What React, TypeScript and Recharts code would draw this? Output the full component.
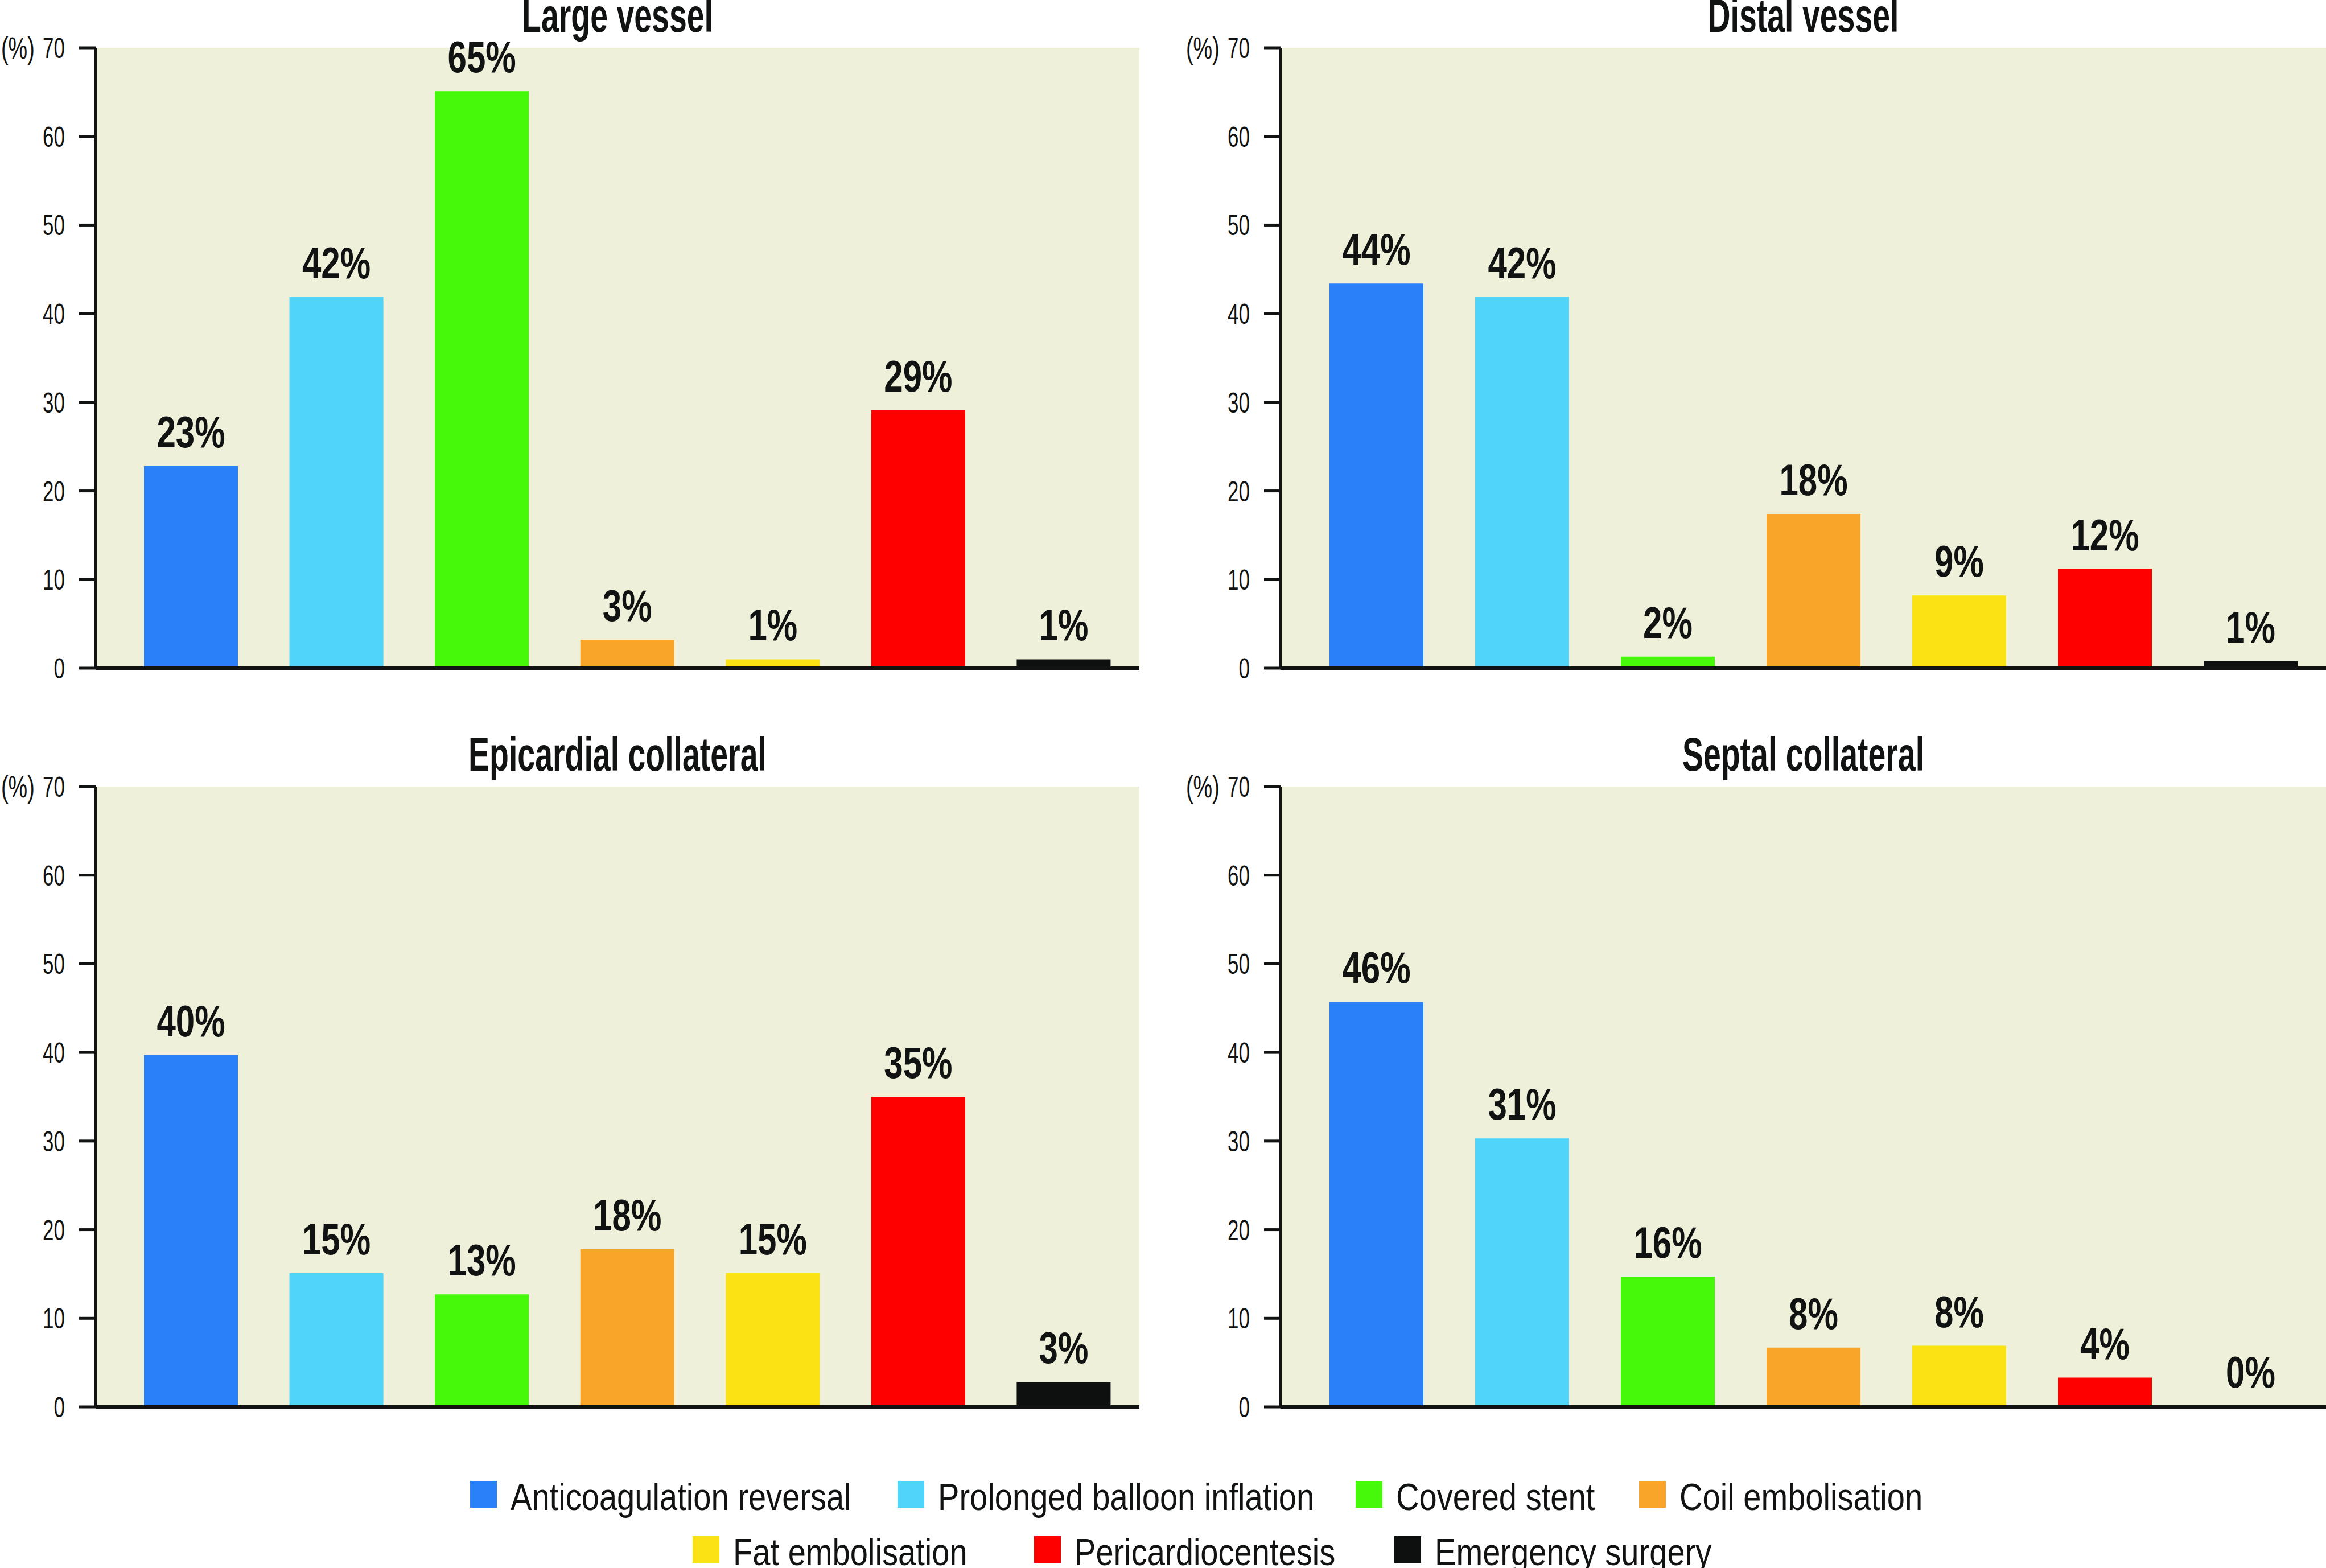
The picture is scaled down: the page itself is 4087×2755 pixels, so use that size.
import React from 'react';
import { BarChart, Bar, XAxis, YAxis, CartesianGrid, Cell, LabelList } from 'recharts';

const categories = [
  'Anticoagulation reversal',
  'Prolonged balloon inflation',
  'Covered stent',
  'Coil embolisation',
  'Fat embolisation',
  'Pericardiocentesis',
  'Emergency surgery',
];

// bar heights, labels as printed
const largeVessel = [22.8, 41.9, 65.1, 3.2, 1.0, 29.1, 1.0];
const largeVesselLabels = ['23%', '42%', '65%', '3%', '1%', '29%', '1%'];
const distalVessel = [43.4, 41.9, 1.3, 17.4, 8.2, 11.2, 0.8];
const distalVesselLabels = ['44%', '42%', '2%', '18%', '9%', '12%', '1%'];
const epicardial = [39.7, 15.1, 12.7, 17.8, 15.1, 35.0, 2.8];
const epicardialLabels = ['40%', '15%', '13%', '18%', '15%', '35%', '3%'];
const septal = [45.7, 30.3, 14.7, 6.7, 6.9, 3.3, 0];
const septalLabels = ['46%', '31%', '16%', '8%', '8%', '4%', '0%'];

const yTicks = [0, 10, 20, 30, 40, 50, 60, 70];

const COLORS = ['#2a80f8', '#50d4fa', '#46f80a', '#f8a52a', '#fbe214', '#fe0000', '#0e100f'];
const BG = '#eef0d9';
const INK = '#111312';
const FONT = '"Liberation Sans", Arial, sans-serif';

const CHART_H = 1200;

const panels = [
  { title: 'Large vessel', values: largeVessel, labels: largeVesselLabels, left: 0, top: 0, width: 2010 },
  { title: 'Distal vessel', values: distalVessel, labels: distalVesselLabels, left: 2080, top: 0, width: 2007 },
  { title: 'Epicardial collateral', values: epicardial, labels: epicardialLabels, left: 0, top: 1298, width: 2010 },
  { title: 'Septal collateral', values: septal, labels: septalLabels, left: 2080, top: 1298, width: 2007 },
];

const legendPos = [
  [826, 2602], [1577, 2602], [2382, 2602], [2880, 2602],
  [1217, 2699], [1817, 2699], [2450, 2699],
];

const YTick = (props: any) => {
  const { x, y, payload } = props;
  return (
    <g transform={`translate(${x},${y}) scale(0.7,1)`}>
      <text x={0} y={0} dy="0.36em" textAnchor="end" fontSize={50} fontFamily={FONT} fill={INK}>
        {payload.value}
      </text>
      {payload.value === 70 && (
        <text x={-76} y={0} dy="0.36em" textAnchor="end" fontSize={54} fontFamily={FONT} fill={INK}>
          (%)
        </text>
      )}
    </g>
  );
};

const ValueLabel = (props: any) => {
  const { x, y, width, value } = props;
  const cx = Number(x) + Number(width) / 2;
  const by = Number(y) - 33;
  return (
    <g transform={`translate(${cx},${by}) scale(0.78,1)`}>
      <text x={0} y={0} textAnchor="middle" fontSize={77} fontWeight="bold" fontFamily={FONT} fill={INK}>
        {value}
      </text>
    </g>
  );
};

const Panel = ({ p }: any) => {
  const data = categories.map((name, i) => ({ name, value: p.values[i], label: p.labels[i] }));
  const marginLeft = p.left === 0 ? 8 : 10;
  return (
    <div style={{ position: 'absolute', left: p.left, top: p.top }}>
      <BarChart
        width={p.width}
        height={CHART_H}
        data={data}
        margin={{ top: 84, right: p.left === 0 ? 8 : 0, left: marginLeft, bottom: 16 }}
      >
        <CartesianGrid fill={BG} horizontal={false} vertical={false} stroke="none" />
        <XAxis
          dataKey="name"
          tick={false}
          tickLine={false}
          height={10}
          padding={{ left: 40, right: 5 }}
          axisLine={{ stroke: INK, strokeWidth: 6 }}
        />
        <YAxis
          width={160}
          domain={[0, 70]}
          ticks={yTicks}
          interval={0}
          tickSize={29}
          tickMargin={25}
          axisLine={{ stroke: INK, strokeWidth: 5 }}
          tickLine={{ stroke: INK, strokeWidth: 5 }}
          tick={<YTick />}
        />
        <Bar dataKey="value" barSize={165} minPointSize={1} isAnimationActive={false}>
          {data.map((_, i) => (
            <Cell key={`c-${i}`} fill={COLORS[i]} />
          ))}
          <LabelList dataKey="label" content={<ValueLabel />} />
        </Bar>
      </BarChart>
    </div>
  );
};

export default function App() {
  return (
    <div style={{ position: 'absolute', left: 0, top: 0, width: 4087, height: 2755, background: '#fff', overflow: 'hidden' }}>
      {panels.map((p) => (
        <Panel key={p.title} p={p} />
      ))}
      <svg width={4087} height={2755} style={{ position: 'absolute', left: 0, top: 0, pointerEvents: 'none' }}>
        {panels.map((p) => {
          const plotLeft = p.left + (p.left === 0 ? 8 : 10) + 160;
          const plotRight = p.left + p.width - (p.left === 0 ? 8 : 0);
          const cx = (plotLeft + plotRight) / 2;
          return (
            <g key={p.title} transform={`translate(${cx},${p.top + 56}) scale(0.66,1)`}>
              <text x={0} y={0} textAnchor="middle" fontSize={84} fontWeight="bold" fontFamily={FONT} fill={INK}>
                {p.title}
              </text>
            </g>
          );
        })}
        {categories.map((name, i) => {
          const [lx, ly] = legendPos[i];
          return (
            <g key={name}>
              <rect x={lx} y={ly} width={47} height={47} fill={COLORS[i]} />
              <g transform={`translate(${lx + 71},${ly + 51}) scale(0.85,1)`}>
                <text x={0} y={0} fontSize={66} fontFamily={FONT} fill={INK}>
                  {name}
                </text>
              </g>
            </g>
          );
        })}
      </svg>
    </div>
  );
}
